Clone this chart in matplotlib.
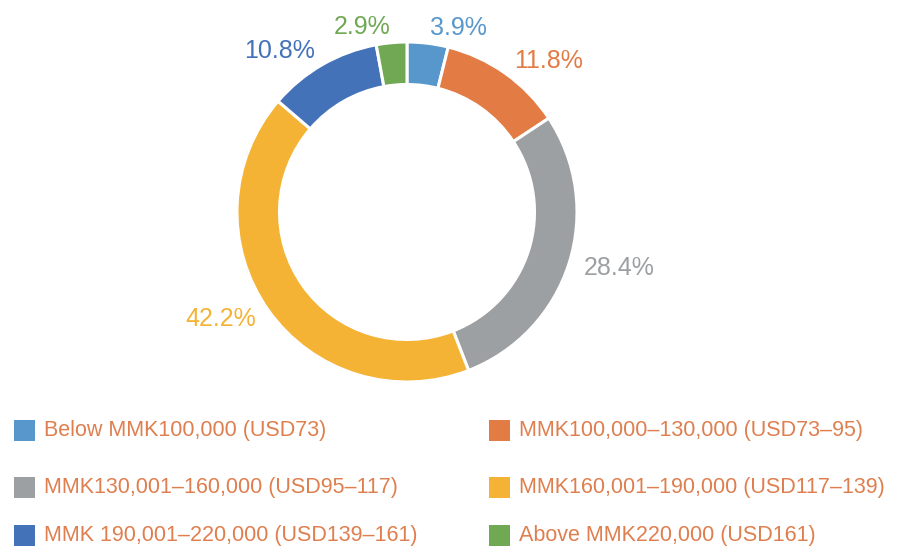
import matplotlib
matplotlib.use("Agg")
import matplotlib.pyplot as plt
from matplotlib.patches import Rectangle

plt.rcParams["font.family"] = ["Liberation Sans", "DejaVu Sans"]

# income bands, share of respondents (%)
categories = [
    "Below MMK100,000 (USD73)",
    "MMK100,000–130,000 (USD73–95)",
    "MMK130,001–160,000 (USD95–117)",
    "MMK160,001–190,000 (USD117–139)",
    "MMK 190,001–220,000 (USD139–161)",
    "Above MMK220,000 (USD161)",
]
shares = [3.9, 11.8, 28.4, 42.2, 10.8, 2.9]
colors = ["#5797CC", "#E37B45", "#9DA0A3", "#F5B336", "#4472B9", "#70A854"]
legend_text_color = "#DF7F4F"

W, H = 899, 549
fig = plt.figure(figsize=(W / 100, H / 100), dpi=100)

# donut: centre (407, 212) px from top-left, outer radius 170 px
cx, cy, r = 407, 212, 170
ax = fig.add_axes([(cx - r) / W, (H - cy - r) / H, 2 * r / W, 2 * r / H])
wedges, texts = ax.pie(
    shares,
    colors=colors,
    startangle=90,
    counterclock=False,
    radius=1,
    labels=[f"{v:.1f}%" for v in shares],
    labeldistance=1.09,
    wedgeprops=dict(width=0.25, edgecolor="white", linewidth=2.2),
)
for t, c in zip(texts, colors):
    t.set_color(c)
    t.set_fontsize(18)
ax.set_xlim(-1, 1)
ax.set_ylim(-1, 1)
ax.set_aspect("equal")
ax.axis("off")

# legend laid out by hand: 2 columns x 3 rows
col_x = [14, 489]
row_y = [430.5, 487.5, 535.5]
box = 21
for i, (lab, c) in enumerate(zip(categories, colors)):
    x0 = col_x[i % 2]
    yc = row_y[i // 2]
    fig.add_artist(Rectangle((x0 / W, (H - yc - box / 2) / H), box / W, box / H,
                             transform=fig.transFigure, color=c, lw=0))
    fig.text((x0 + box + 9) / W, (H - yc) / H, lab, color=legend_text_color,
             fontsize=15.5, ha="left", va="center")

fig.savefig("out.png", dpi=100)
